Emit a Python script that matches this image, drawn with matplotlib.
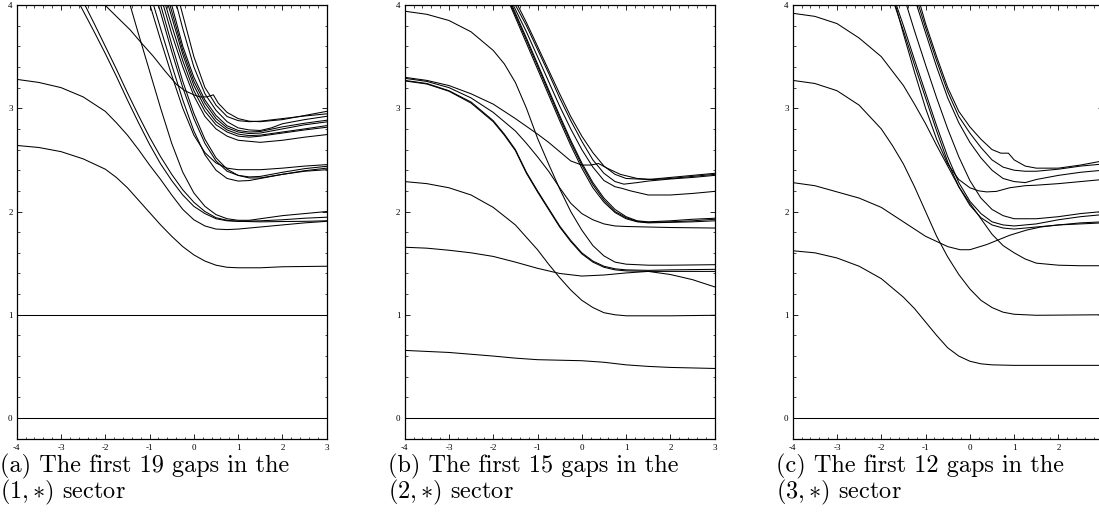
import matplotlib.pyplot as plt
from matplotlib.ticker import MultipleLocator

plt.rcParams['font.family'] = ['Liberation Serif', 'DejaVu Serif']
plt.rcParams['mathtext.fontset'] = 'cm'
plt.rcParams['axes.unicode_minus'] = False

# ---- (1,*) sector: 19 gaps ----
a_zero = [(-4, 0.0), (3, 0.0)]
a_one = [(-4, 1.0), (3, 1.0)]
a_low = [(-4, 2.64), (-3.5, 2.62), (-3, 2.58), (-2.5, 2.51), (-2, 2.41), (-1.75, 2.33), (-1.5, 2.23),
         (-1.25, 2.11), (-1, 1.99), (-0.75, 1.87), (-0.5, 1.76), (-0.25, 1.66), (0, 1.58), (0.25, 1.52),
         (0.5, 1.48), (0.75, 1.46), (1, 1.455), (1.5, 1.455), (2, 1.465), (3, 1.47)]
a_c2 = [(-4, 3.28), (-3.5, 3.25), (-3, 3.2), (-2.5, 3.11), (-2, 2.97), (-1.75, 2.86), (-1.5, 2.74),
        (-1.25, 2.6), (-1, 2.45), (-0.75, 2.31), (-0.5, 2.16), (-0.25, 2.02), (0, 1.92), (0.25, 1.86),
        (0.5, 1.83), (0.75, 1.825), (1, 1.83), (1.5, 1.85), (2, 1.87), (2.5, 1.89), (3, 1.905)]
a_t1 = [(-2.57, 4.0), (-2.25, 3.74), (-2, 3.53), (-1.75, 3.31), (-1.5, 3.08), (-1.25, 2.86), (-1, 2.65),
        (-0.75, 2.46), (-0.5, 2.3), (-0.25, 2.16), (0, 2.05), (0.25, 1.98), (0.5, 1.93), (0.75, 1.91),
        (1, 1.905), (1.5, 1.91), (2, 1.92), (2.5, 1.935), (3, 1.945)]
a_t2 = [(-2.46, 4.0), (-2.25, 3.82), (-2, 3.6), (-1.75, 3.38), (-1.5, 3.15), (-1.25, 2.93), (-1, 2.72),
        (-0.75, 2.53), (-0.5, 2.36), (-0.25, 2.21), (0, 2.09), (0.25, 2.0), (0.5, 1.94), (0.75, 1.915),
        (1, 1.905), (1.5, 1.9), (2, 1.903), (2.5, 1.905), (3, 1.91)]
a_t3 = [(-1.44, 4.0), (-1.25, 3.72), (-1, 3.36), (-0.75, 3.0), (-0.5, 2.66), (-0.25, 2.38), (0, 2.18),
        (0.25, 2.05), (0.5, 1.97), (0.75, 1.93), (1, 1.915), (1.25, 1.915), (1.5, 1.93), (2, 1.96),
        (2.5, 1.98), (3, 2.0)]
a_g1 = [(-0.99, 4.0), (-0.75, 3.66), (-0.5, 3.32), (-0.25, 3.0), (0, 2.74), (0.25, 2.57), (0.5, 2.47),
        (0.75, 2.42), (1, 2.405), (1.5, 2.405), (2, 2.42), (2.5, 2.44), (3, 2.454)]
a_g2 = [(-0.8, 4.0), (-0.5, 3.55), (-0.25, 3.2), (0, 2.9), (0.25, 2.66), (0.5, 2.49), (0.75, 2.39),
        (1, 2.35), (1.25, 2.335), (1.5, 2.34), (2, 2.38), (2.5, 2.415), (3, 2.438)]
a_g3 = [(-0.75, 4.0), (-0.5, 3.62), (-0.25, 3.26), (0, 2.95), (0.25, 2.7), (0.5, 2.52), (0.75, 2.41),
        (1, 2.35), (1.25, 2.325), (1.5, 2.325), (2, 2.36), (2.5, 2.395), (3, 2.42)]
a_g4 = [(-0.91, 4.0), (-0.75, 3.77), (-0.5, 3.42), (-0.25, 3.08), (0, 2.78), (0.25, 2.55), (0.5, 2.4),
        (0.75, 2.32), (1, 2.295), (1.25, 2.3), (1.5, 2.32), (2, 2.36), (2.5, 2.39), (3, 2.405)]
a_u1 = [(-0.69, 4.0), (-0.5, 3.72), (-0.25, 3.4), (0, 3.12), (0.25, 2.92), (0.5, 2.8), (0.75, 2.73),
        (1, 2.69), (1.5, 2.67), (2, 2.69), (2.5, 2.72), (3, 2.745)]
a_u2 = [(-0.64, 4.0), (-0.5, 3.8), (-0.25, 3.46), (0, 3.17), (0.25, 2.97), (0.5, 2.84), (0.75, 2.77),
        (1, 2.73), (1.25, 2.72), (1.5, 2.73), (2, 2.76), (2.5, 2.79), (3, 2.816)]
a_u3 = [(-0.58, 4.0), (-0.25, 3.52), (0, 3.22), (0.25, 3.01), (0.5, 2.87), (0.75, 2.79), (1, 2.75),
        (1.25, 2.735), (1.5, 2.74), (2, 2.77), (2.5, 2.8), (3, 2.832)]
a_u4 = [(-0.54, 4.0), (-0.25, 3.56), (0, 3.26), (0.25, 3.05), (0.5, 2.9), (0.75, 2.81), (1, 2.77),
        (1.25, 2.755), (1.5, 2.76), (2, 2.8), (2.5, 2.84), (3, 2.868)]
a_u5 = [(-0.5, 4.0), (-0.25, 3.6), (0, 3.3), (0.25, 3.08), (0.5, 2.93), (0.75, 2.83), (1, 2.785),
        (1.25, 2.77), (1.5, 2.775), (2, 2.82), (2.5, 2.855), (3, 2.884)]
a_u6 = [(-0.39, 4.0), (-0.25, 3.77), (0, 3.4), (0.25, 3.14), (0.5, 2.98), (0.75, 2.87), (1, 2.81),
        (1.25, 2.79), (1.5, 2.785), (1.75, 2.81), (2, 2.85), (2.5, 2.89), (3, 2.922)]
a_u7 = [(-0.31, 4.0), (0, 3.5), (0.25, 3.2), (0.4, 3.1), (0.5, 3.03), (0.75, 2.92), (1, 2.88),
        (1.25, 2.87), (1.5, 2.875), (2, 2.9), (2.5, 2.925), (3, 2.946)]
a_kink = [(-2.01, 4.0), (-1.75, 3.89), (-1.44, 3.76), (-1.2, 3.64), (-0.91, 3.5), (-0.65, 3.36),
          (-0.39, 3.23), (-0.2, 3.17), (0, 3.13), (0.14, 3.11), (0.29, 3.11), (0.44, 3.13), (0.55, 3.05),
          (0.75, 2.96), (1, 2.9), (1.25, 2.875), (1.5, 2.87), (2, 2.89), (2.5, 2.93), (3, 2.97)]

# ---- (2,*) sector: 15 gaps ----
b_zero = [(-4, 0.0), (3, 0.0)]
b_low = [(-4, 0.655), (-3, 0.635), (-2, 0.6), (-1.5, 0.58), (-1, 0.565), (0, 0.555), (0.5, 0.54),
         (1, 0.515), (1.5, 0.5), (2, 0.49), (3, 0.48)]
b_1 = [(-4, 2.29), (-3.5, 2.27), (-3, 2.23), (-2.5, 2.16), (-2, 2.04), (-1.5, 1.87), (-1, 1.63),
       (-0.75, 1.49), (-0.5, 1.36), (-0.25, 1.24), (0, 1.14), (0.25, 1.07), (0.5, 1.02), (0.75, 1.0),
       (1, 0.99), (2, 0.99), (3, 0.995)]
b_2 = [(-4, 1.654), (-3.5, 1.645), (-3, 1.625), (-2.5, 1.6), (-2, 1.565), (-1.5, 1.51), (-1, 1.45),
       (-0.5, 1.4), (0, 1.375), (0.5, 1.385), (1, 1.405), (1.5, 1.42), (2, 1.39), (2.5, 1.34), (3, 1.27)]
b_3 = [(-4, 3.94), (-3.5, 3.91), (-3, 3.85), (-2.5, 3.74), (-2, 3.56), (-1.75, 3.43), (-1.5, 3.25),
       (-1.25, 3.0), (-1, 2.71), (-0.75, 2.46), (-0.5, 2.22), (-0.25, 2.0), (0, 1.82), (0.25, 1.67),
       (0.5, 1.57), (0.75, 1.51), (1, 1.49), (1.5, 1.48), (2, 1.48), (3, 1.485)]
b_4 = [(-4, 3.3), (-3.5, 3.27), (-3, 3.22), (-2.5, 3.14), (-2, 3.04), (-1.5, 2.9), (-1, 2.75),
       (-0.75, 2.67), (-0.5, 2.58), (-0.25, 2.49), (0, 2.45), (0.2, 2.45), (0.38, 2.465), (0.57, 2.42),
       (0.87, 2.36), (1.25, 2.32), (1.62, 2.31), (2, 2.32), (2.5, 2.34), (3, 2.36)]
b_5 = [(-4, 3.29), (-3.5, 3.26), (-3, 3.2), (-2.5, 3.1), (-2, 2.96), (-1.5, 2.78), (-1.25, 2.66),
       (-1, 2.53), (-0.75, 2.39), (-0.5, 2.23), (-0.25, 2.08), (0, 1.98), (0.25, 1.92), (0.5, 1.88),
       (0.75, 1.86), (1, 1.855), (1.5, 1.85), (2, 1.845), (3, 1.84)]
b_6a = [(-4, 3.27), (-3.5, 3.24), (-3, 3.17), (-2.5, 3.06), (-2, 2.88), (-1.75, 2.75), (-1.5, 2.6),
        (-1.25, 2.38), (-1, 2.2), (-0.75, 2.03), (-0.5, 1.86), (-0.25, 1.72), (0, 1.6), (0.25, 1.52),
        (0.5, 1.47), (0.75, 1.445), (1, 1.435), (1.5, 1.43), (2, 1.435), (3, 1.44)]
b_6b = [(-4, 3.265), (-3.5, 3.235), (-3, 3.165), (-2.5, 3.05), (-2, 2.87), (-1.75, 2.74), (-1.5, 2.59),
        (-1.25, 2.37), (-1, 2.19), (-0.75, 2.02), (-0.5, 1.85), (-0.25, 1.71), (0, 1.59), (0.25, 1.51),
        (0.5, 1.46), (0.75, 1.435), (1, 1.425), (1.5, 1.42), (2, 1.42), (3, 1.42)]
b_s1 = [(-1.45, 4.0), (-1.25, 3.83), (-1, 3.6), (-0.75, 3.37), (-0.5, 3.14), (-0.25, 2.92), (0, 2.73),
        (0.25, 2.57), (0.5, 2.44), (0.75, 2.36), (1, 2.32), (1.5, 2.31), (2, 2.33), (2.5, 2.35), (3, 2.37)]
b_s2 = [(-1.5, 4.0), (-1.25, 3.8), (-1, 3.57), (-0.75, 3.34), (-0.5, 3.1), (-0.25, 2.88), (0, 2.68),
        (0.25, 2.5), (0.5, 2.37), (0.75, 2.29), (0.95, 2.265), (1.25, 2.28), (1.5, 2.295), (2, 2.315),
        (2.5, 2.33), (3, 2.35)]
b_s3 = [(-1.55, 4.0), (-1.25, 3.74), (-1, 3.5), (-0.75, 3.26), (-0.5, 3.02), (-0.25, 2.8), (0, 2.6),
        (0.25, 2.43), (0.5, 2.3), (0.75, 2.24), (0.9, 2.225), (1.1, 2.2), (1.5, 2.16), (2, 2.16),
        (2.5, 2.175), (3, 2.195)]
b_s4 = [(-1.58, 4.0), (-1.25, 3.68), (-1, 3.43), (-0.75, 3.18), (-0.5, 2.93), (-0.25, 2.69), (0, 2.47),
        (0.25, 2.28), (0.5, 2.13), (0.75, 2.02), (1, 1.95), (1.25, 1.91), (1.5, 1.9), (2, 1.91),
        (2.5, 1.925), (3, 1.935)]
b_s5 = [(-1.62, 4.0), (-1.25, 3.63), (-1, 3.38), (-0.75, 3.13), (-0.5, 2.88), (-0.25, 2.64), (0, 2.42),
        (0.25, 2.23), (0.5, 2.09), (0.75, 1.99), (1, 1.93), (1.25, 1.9), (1.5, 1.89), (2, 1.895),
        (2.5, 1.9), (3, 1.91)]
b_s6 = [(-1.6, 4.0), (-1.25, 3.66), (-1, 3.41), (-0.75, 3.16), (-0.5, 2.91), (-0.25, 2.67), (0, 2.45),
        (0.25, 2.26), (0.5, 2.11), (0.75, 2.0), (1, 1.94), (1.25, 1.905), (1.5, 1.895), (2, 1.9),
        (2.5, 1.91), (3, 1.925)]

# ---- (3,*) sector: 12 gaps ----
c_zero = [(-4, 0.0), (3, 0.0)]
c_low = [(-4, 1.62), (-3.5, 1.6), (-3, 1.55), (-2.5, 1.47), (-2, 1.35), (-1.5, 1.17), (-1.25, 1.06),
         (-1, 0.93), (-0.75, 0.8), (-0.5, 0.68), (-0.25, 0.6), (0, 0.55), (0.25, 0.525), (0.5, 0.515),
         (1, 0.51), (2, 0.51), (3, 0.51)]
c_1 = [(-4, 2.28), (-3.5, 2.25), (-3, 2.19), (-2.5, 2.13), (-2, 2.04), (-1.5, 1.9), (-1, 1.76),
       (-0.5, 1.66), (-0.22, 1.63), (0, 1.63), (0.38, 1.68), (0.9, 1.77), (1.28, 1.82), (1.6, 1.85),
       (2, 1.87), (2.5, 1.89), (3, 1.9)]
c_2 = [(-4, 3.92), (-3.5, 3.89), (-3, 3.82), (-2.5, 3.68), (-2, 3.5), (-1.5, 3.22), (-1.25, 3.04),
       (-1, 2.85), (-0.75, 2.64), (-0.5, 2.44), (-0.25, 2.24), (0, 2.08), (0.25, 1.93), (0.5, 1.78),
       (0.75, 1.67), (1, 1.6), (1.25, 1.54), (1.5, 1.5), (2, 1.48), (2.5, 1.475), (3, 1.475)]
c_3 = [(-4, 3.27), (-3.5, 3.24), (-3, 3.17), (-2.5, 3.03), (-2, 2.8), (-1.75, 2.64), (-1.5, 2.46),
       (-1.25, 2.24), (-1, 2.0), (-0.75, 1.76), (-0.5, 1.56), (-0.25, 1.39), (0, 1.25), (0.25, 1.14),
       (0.5, 1.07), (0.75, 1.025), (1, 1.005), (1.5, 0.995), (3, 1.0)]
c_s0 = [(-1.68, 4.0), (-1.5, 3.72), (-1.25, 3.35), (-1, 3.0), (-0.75, 2.7), (-0.5, 2.46), (-0.25, 2.31),
        (0, 2.23), (0.2, 2.2), (0.38, 2.19), (0.6, 2.195), (0.9, 2.23), (1.25, 2.25), (1.5, 2.255),
        (2, 2.27), (2.5, 2.29), (3, 2.31)]
c_s1 = [(-1.12, 4.0), (-1, 3.82), (-0.75, 3.5), (-0.5, 3.2), (-0.25, 2.97), (0, 2.82), (0.25, 2.7),
        (0.5, 2.6), (0.7, 2.565), (0.87, 2.565), (1, 2.5), (1.25, 2.44), (1.5, 2.42), (2, 2.42),
        (2.5, 2.45), (3, 2.49)]
c_s2 = [(-1.16, 4.0), (-1, 3.78), (-0.75, 3.46), (-0.5, 3.16), (-0.25, 2.92), (0, 2.76), (0.25, 2.62),
        (0.5, 2.5), (0.75, 2.43), (1, 2.4), (1.25, 2.39), (1.5, 2.39), (2, 2.41), (2.5, 2.44), (3, 2.46)]
c_s3 = [(-1.2, 4.0), (-1, 3.73), (-0.75, 3.4), (-0.5, 3.1), (-0.25, 2.86), (0, 2.67), (0.25, 2.52),
        (0.5, 2.4), (0.75, 2.32), (1, 2.29), (1.25, 2.28), (1.5, 2.31), (2, 2.35), (2.5, 2.38), (3, 2.4)]
c_s6 = [(-1.43, 4.0), (-1.25, 3.75), (-1, 3.42), (-0.75, 3.1), (-0.5, 2.8), (-0.25, 2.53), (0, 2.3),
        (0.25, 2.13), (0.5, 2.02), (0.75, 1.96), (1, 1.93), (1.5, 1.93), (2, 1.95), (2.5, 1.98), (3, 2.0)]
c_s7 = [(-1.66, 4.0), (-1.5, 3.8), (-1.25, 3.47), (-1, 3.15), (-0.75, 2.83), (-0.5, 2.53), (-0.25, 2.28),
        (0, 2.1), (0.25, 1.98), (0.5, 1.9), (0.75, 1.87), (1, 1.86), (1.5, 1.88), (2, 1.92), (2.5, 1.95),
        (3, 1.97)]
c_s8 = [(-1.7, 4.0), (-1.5, 3.75), (-1.25, 3.42), (-1, 3.1), (-0.75, 2.78), (-0.5, 2.48), (-0.25, 2.24),
        (0, 2.06), (0.25, 1.94), (0.5, 1.87), (0.75, 1.84), (1, 1.83), (1.5, 1.85), (2, 1.87), (2.5, 1.88),
        (3, 1.89)]

panel_a = [a_zero, a_one, a_low, a_c2, a_t1, a_t2, a_t3, a_g1, a_g2, a_g3, a_g4,
           a_u1, a_u2, a_u3, a_u4, a_u5, a_u6, a_u7, a_kink]
panel_b = [b_zero, b_low, b_1, b_2, b_3, b_4, b_5, b_6a, b_6b, b_s1, b_s2, b_s3, b_s4, b_s5, b_s6]
panel_c = [c_zero, c_low, c_1, c_2, c_3, c_s0, c_s1, c_s2, c_s3, c_s6, c_s7, c_s8]

captions = [("(a) The first 19 gaps in the", r"$(1,{\ast})$ sector"),
            ("(b) The first 15 gaps in the", r"$(2,{\ast})$ sector"),
            ("(c) The first 12 gaps in the", r"$(3,{\ast})$ sector")]

fig = plt.figure(figsize=(10.99, 5.27), dpi=100)
lefts = [0.0152, 0.3682, 0.7213]
for i, (left, curves, cap) in enumerate(zip(lefts, [panel_a, panel_b, panel_c], captions)):
    ax = fig.add_axes([left, 0.1676, 0.2821, 0.8229])
    for c in curves:
        xs = [p[0] for p in c]
        ys = [p[1] for p in c]
        ax.plot(xs, ys, color='black', lw=0.75)
    ax.set_xlim(-4, 3)
    ax.set_ylim(-0.2, 4)
    ax.xaxis.set_major_locator(MultipleLocator(1))
    ax.xaxis.set_minor_locator(MultipleLocator(0.2))
    ax.yaxis.set_major_locator(MultipleLocator(1))
    ax.yaxis.set_minor_locator(MultipleLocator(0.2))
    ax.tick_params(which='both', direction='in', top=True, right=True, labelsize=6.5)
    ax.tick_params(axis='x', pad=4)
    ax.tick_params(axis='y', pad=3)
    ax.tick_params(which='major', length=3.5, width=0.6)
    ax.tick_params(which='minor', length=1.8, width=0.5)
    for s in ax.spines.values():
        s.set_linewidth(0.9)
    if i == 2:
        # the last panel runs off the right edge of the page
        ax.set_xticks([-4, -3, -2, -1, 0, 1, 2])
        ax.xaxis.set_minor_locator(MultipleLocator(0.2))
    x0 = left - 0.0152
    fig.text(x0, 0.115, cap[0], fontsize=17.5, family='cmr10', va='center')
    fig.text(x0, 0.066, cap[1], fontsize=17.5, family='cmr10', va='center')

fig.savefig('out.png', dpi=100)
